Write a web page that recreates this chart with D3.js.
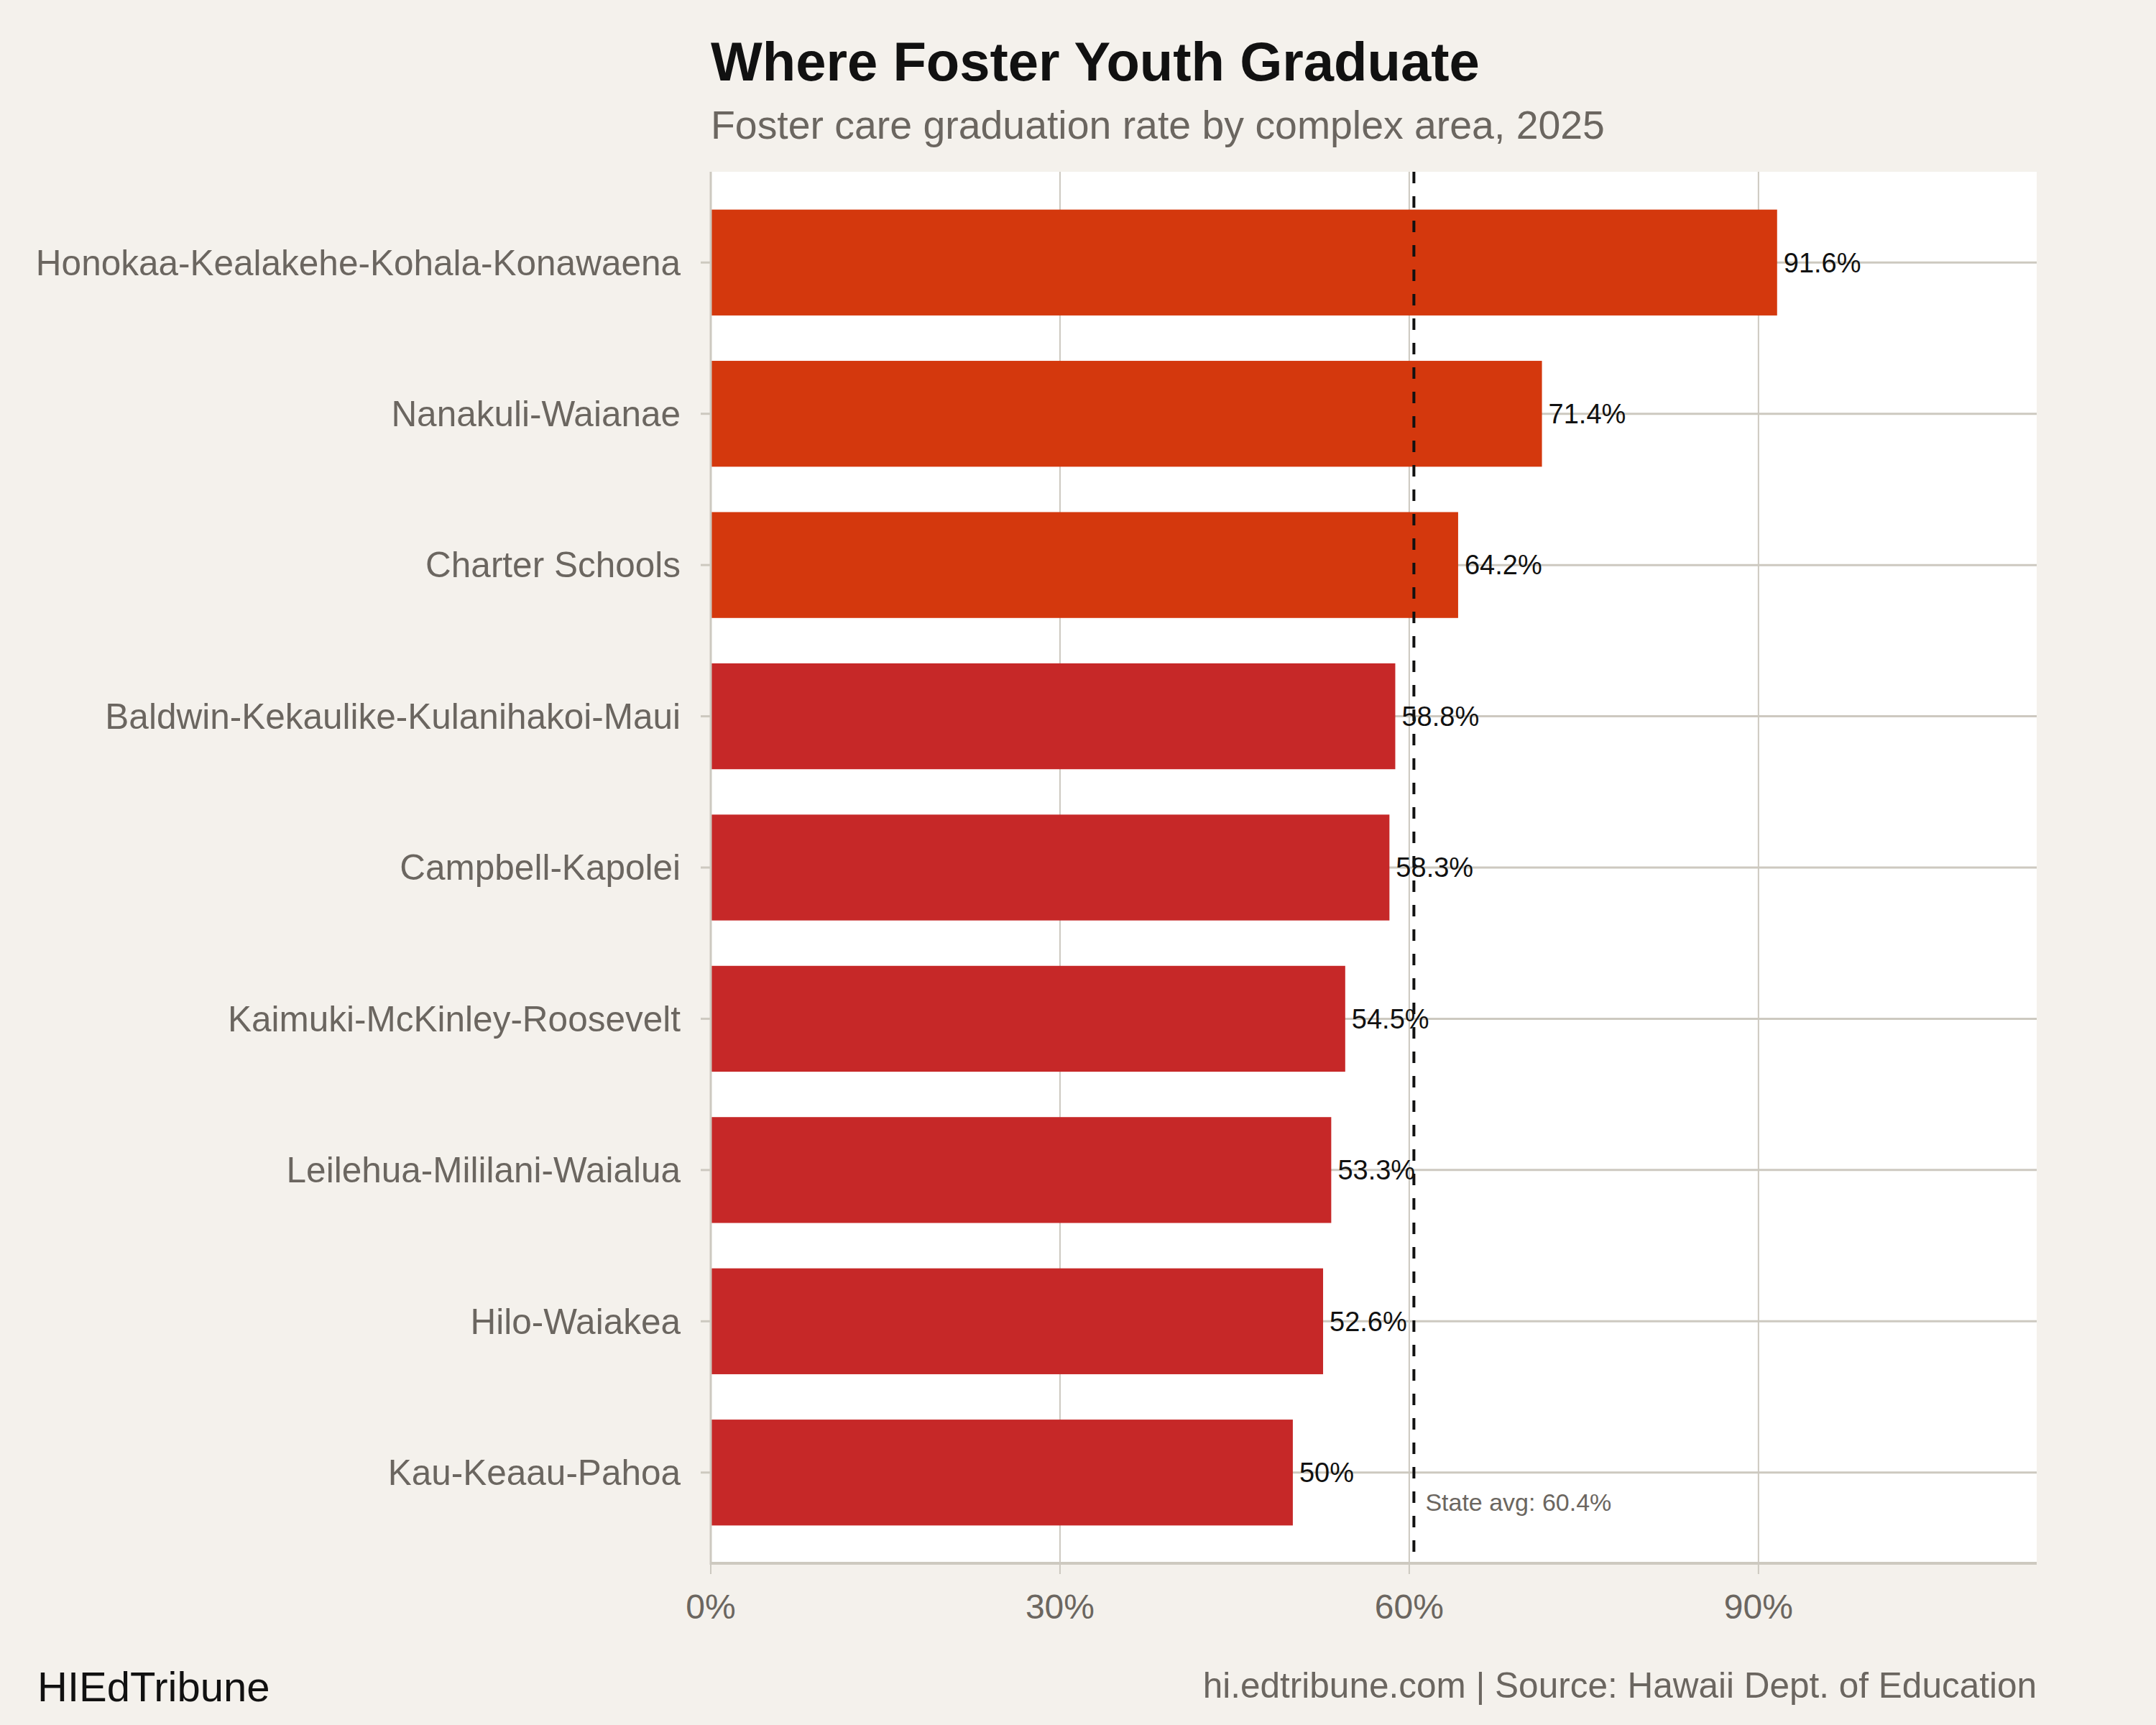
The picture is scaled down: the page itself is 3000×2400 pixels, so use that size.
<!DOCTYPE html>
<html>
<head>
<meta charset="utf-8">
<script src="https://d3js.org/d3.v7.min.js"></script>
<style>
  html, body { margin: 0; padding: 0; background: #f4f1ec; }
  * { font-family: "Liberation Sans", Arial, Helvetica, sans-serif; }
  .grid line { stroke: #cdc9c0; }
  .cat { fill: #6b6660; font-size: 49.5px; text-anchor: end; }
  .tick-label { fill: #6b6660; font-size: 48px; text-anchor: middle; }
  .value { fill: #111; font-size: 38px; }
</style>
</head>
<body>
<script>
// data
const areas = [
  "Honokaa-Kealakehe-Kohala-Konawaena",
  "Nanakuli-Waianae",
  "Charter Schools",
  "Baldwin-Kekaulike-Kulanihakoi-Maui",
  "Campbell-Kapolei",
  "Kaimuki-McKinley-Roosevelt",
  "Leilehua-Mililani-Waialua",
  "Hilo-Waiakea",
  "Kau-Keaau-Pahoa"
];
const rates = [91.6, 71.4, 64.2, 58.8, 58.3, 54.5, 53.3, 52.6, 50];
const stateAvg = 60.4;
const xTicks = [0, 30, 60, 90];

const W = 3000, H = 2400;
const margin = {top: 239, right: 166, bottom: 225, left: 989};
const width = W - margin.left - margin.right;
const height = H - margin.top - margin.bottom;

const svg = d3.select("body").append("svg")
  .attr("width", W)
  .attr("height", H)
  .style("display", "block");

svg.append("rect").attr("width", W).attr("height", H).attr("fill", "#f4f1ec");

// titles
svg.append("text")
  .attr("x", margin.left).attr("y", 112)
  .attr("font-size", 76).attr("font-weight", "bold").attr("fill", "#111")
  .text("Where Foster Youth Graduate");
svg.append("text")
  .attr("x", margin.left).attr("y", 193)
  .attr("font-size", 55.4).attr("fill", "#6b6660")
  .text("Foster care graduation rate by complex area, 2025");

const g = svg.append("g")
  .attr("transform", "translate(" + margin.left + "," + margin.top + ")");

const x = d3.scaleLinear().domain([0, 113.9]).range([0, width]);
const y = d3.scaleBand().domain(areas).range([0, height])
  .paddingInner(0.3).paddingOuter(0.25);

// panel
g.append("rect").attr("width", width).attr("height", height).attr("fill", "#fff");

// vertical gridlines
g.append("g").attr("class", "grid")
  .selectAll("line").data(xTicks).enter().append("line")
  .attr("x1", d => x(d)).attr("x2", d => x(d))
  .attr("y1", 0).attr("y2", height)
  .attr("stroke-width", 2);

// horizontal gridlines
g.append("g").attr("class", "grid")
  .selectAll("line").data(areas).enter().append("line")
  .attr("x1", 0).attr("x2", width)
  .attr("y1", d => y(d) + y.bandwidth() / 2)
  .attr("y2", d => y(d) + y.bandwidth() / 2)
  .attr("stroke-width", 3);

// bars
g.selectAll(".bar").data(areas).enter().append("rect")
  .attr("class", "bar")
  .attr("x", 0)
  .attr("y", d => y(d))
  .attr("width", (d, i) => x(rates[i]))
  .attr("height", y.bandwidth())
  .attr("fill", (d, i) => rates[i] > stateAvg ? "#d4380d" : "#c62828");

// state average line
g.append("line")
  .attr("x1", x(stateAvg)).attr("x2", x(stateAvg))
  .attr("y1", 0).attr("y2", height)
  .attr("stroke", "#111").attr("stroke-width", 4)
  .attr("stroke-dasharray", "16,18");

g.append("text")
  .attr("x", x(stateAvg) + 16)
  .attr("y", y(areas[areas.length - 1]) + y.bandwidth() - 20)
  .attr("font-size", 34).attr("fill", "#6b6660")
  .text("State avg: " + stateAvg + "%");

// value labels
g.selectAll(".value").data(areas).enter().append("text")
  .attr("class", "value")
  .attr("x", (d, i) => x(rates[i]) + 9)
  .attr("y", d => y(d) + y.bandwidth() / 2)
  .attr("dy", "0.35em")
  .text((d, i) => rates[i] + "%");

// axes
g.append("line")
  .attr("x1", 0).attr("x2", 0).attr("y1", 0).attr("y2", height + 2)
  .attr("stroke", "#cdc9c0").attr("stroke-width", 3);
g.append("line")
  .attr("x1", 0).attr("x2", width).attr("y1", height).attr("y2", height)
  .attr("stroke", "#cdc9c0").attr("stroke-width", 4);

// y ticks + labels
const yt = g.selectAll(".ytick").data(areas).enter().append("g")
  .attr("transform", d => "translate(0," + (y(d) + y.bandwidth() / 2) + ")");
yt.append("line").attr("x1", -14).attr("x2", 0)
  .attr("stroke", "#cdc9c0").attr("stroke-width", 3);
yt.append("text").attr("class", "cat")
  .attr("x", -42).attr("dy", "0.35em")
  .text(d => d);

// x ticks + labels
const xt = g.selectAll(".xtick").data(xTicks).enter().append("g")
  .attr("transform", d => "translate(" + x(d) + "," + height + ")");
xt.append("line").attr("y1", 0).attr("y2", 15)
  .attr("stroke", "#cdc9c0").attr("stroke-width", 2);
xt.append("text").attr("class", "tick-label")
  .attr("y", 77)
  .text(d => d + "%");

// footer
svg.append("text")
  .attr("x", 52).attr("y", 2367)
  .attr("font-size", 58).attr("fill", "#111")
  .text("HIEdTribune");
svg.append("text")
  .attr("x", W - margin.right).attr("y", 2362)
  .attr("font-size", 49.5).attr("fill", "#6b6660")
  .attr("text-anchor", "end")
  .text("hi.edtribune.com | Source: Hawaii Dept. of Education");
</script>
</body>
</html>
